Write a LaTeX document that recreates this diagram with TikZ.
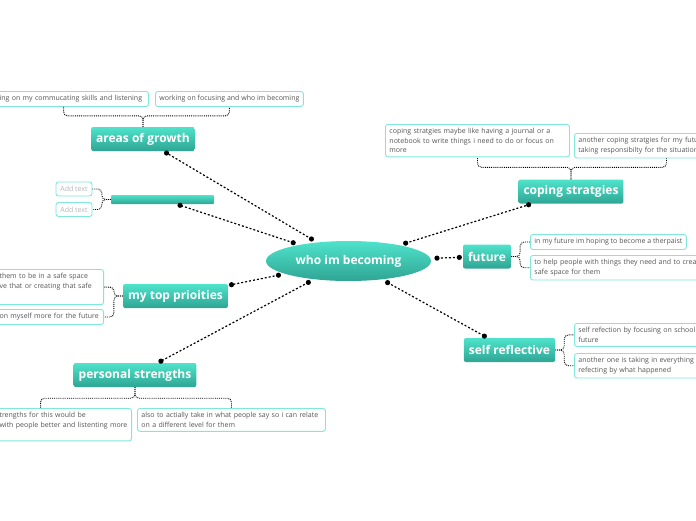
\documentclass[tikz,border=0pt]{standalone}
\usepackage{fontspec}
\setmainfont{Open Sans}
\usetikzlibrary{shapes.geometric,calc}
\definecolor{tealtop}{HTML}{4FE3CB}
\definecolor{tealbot}{HTML}{2FA594}
\definecolor{leafline}{HTML}{7FE8DA}
\definecolor{leaftext}{HTML}{555555}
\definecolor{addgrey}{HTML}{B5B5B5}

\begin{document}
\begin{tikzpicture}[x=1pt,y=-1pt,
  topic/.style={top color=tealtop,bottom color=tealbot,rounded corners=2pt,text=white,
    font=\fontsize{12}{14}\selectfont\bfseries,minimum height=24pt,inner xsep=5pt},
  leaf/.style={draw=leafline,line width=0.9pt,fill=white,rounded corners=2.5pt,text=leaftext,
    font=\fontsize{7}{9.5}\selectfont,align=left,inner sep=4pt},
  link/.style={line width=1.2pt,dash pattern=on 2pt off 2pt},
  dot/.style={fill=black},
  brace/.style={line width=0.9pt,densely dotted,rounded corners=4pt}]

  \useasboundingbox (0,0) rectangle (696,520);
  \clip (0,0) rectangle (696,520);

  \node[ellipse,top color=tealtop,bottom color=tealbot,minimum width=165pt,minimum height=40pt,
    text=white,font=\fontsize{12}{14}\selectfont\bfseries] (centre) at (348.5,261) {who im becoming};

  % areas of growth
  \node[topic] (growth) at (143,139) {areas of growth};
  \node[leaf,anchor=north east,text width=162pt] (growA) at (149,91) {\hspace*{17pt}ing on my commucating skills and listening};
  \node[leaf,anchor=north west] (growB) at (155,91) {working on focusing and who im becoming};
  \draw[brace] (growth.north) -- ++(0,-11) -| (growA.south);
  \draw[brace] (growth.north) -- ++(0,-11) -| (growB.south);

  % empty branch
  \node[top color=tealtop,bottom color=tealbot,rounded corners=1pt,minimum width=103pt,
    minimum height=9pt,inner sep=0pt] (blank) at (162.5,199.5) {};
  \node[leaf,text=addgrey,minimum width=36pt,minimum height=14pt,inner sep=2pt] (addA) at (74,189) {Add text};
  \node[leaf,text=addgrey,minimum width=36pt,minimum height=14pt,inner sep=2pt] (addB) at (74,209.5) {Add text};
  \draw[brace] (blank.west) -- ++(-9,0) |- (addA.east);
  \draw[brace] (blank.west) -- ++(-9,0) |- (addB.east);

  % coping stratgies
  \node[topic] (coping) at (571,191.5) {coping stratgies};
  \node[leaf,anchor=north west,text width=176pt] (copA) at (385,124) {coping stratgies maybe like having a journal or a\\notebook to write things i need to do or focus on\\more};
  \node[leaf,anchor=north west,text width=176pt] (copB) at (574,133) {another coping stratgies for my futu\\taking responsibilty for the situation};
  \draw[brace] (coping.north) -- ++(0,-12) -| (copA.south);
  \draw[brace] (coping.north) -- ++(0,-12) -| (copB.south);

  % future
  \node[topic] (future) at (487,256.5) {future};
  \node[leaf,anchor=north west] (futA) at (530,234) {in my future im hoping to become a therpaist};
  \node[leaf,anchor=north west,text width=190pt] (futB) at (530,255) {to help people with things they need and to creat\\safe space for them};
  \draw[brace] (future.east) -- ++(9,0) |- (futA.west);
  \draw[brace] (future.east) -- ++(9,0) |- (futB.west);

  % my top prioities
  \node[topic] (prio) at (175.5,296) {my top prioities};
  \node[leaf,anchor=north east,text width=100pt] (prioA) at (104,269) {them to be in a safe space\\ve that or creating that safe\\\strut};
  \node[leaf,anchor=north east,text width=100pt] (prioB) at (104,309) {on myself more for the future};
  \draw[brace] (prio.west) -- ++(-9,0) |- (prioA.east);
  \draw[brace] (prio.west) -- ++(-9,0) |- (prioB.east);

  % personal strengths
  \node[topic] (strength) at (135,375) {personal strengths};
  \node[leaf,anchor=north east,text width=174pt] (strA) at (132,408) {\leftskip=46pt trengths for this would be\\with people better and listenting more\\eed};
  \node[leaf,anchor=north west,text width=180pt] (strB) at (137,408) {also to actially take in what people say so i can relate\\on a different level for them};
  \draw[brace] (strength.south) -- ++(0,11) -| (strA.north);
  \draw[brace] (strength.south) -- ++(0,11) -| (strB.north);

  % self reflective
  \node[topic] (self) at (509.5,350) {self reflective};
  \node[leaf,anchor=north west,text width=176pt] (selfA) at (574,323) {self refection by focusing on school\\future};
  \node[leaf,anchor=north west,text width=176pt] (selfB) at (574,353) {another one is taking in everything\\refecting by what happened};
  \draw[brace] (self.east) -- ++(9,0) |- (selfA.west);
  \draw[brace] (self.east) -- ++(9,0) |- (selfB.west);

  % links from the centre, dot at both ends
  \foreach \br in {growth,blank,coping,future,prio,strength,self} {
    \path (centre) -- (\br) coordinate[pos=0] (s) coordinate[pos=1] (e);
    \coordinate (ds) at ($(s)!6.5pt!(e)$);
    \coordinate (de) at ($(e)!3.5pt!(s)$);
    \draw[link] (ds) -- (de);
    \fill[dot] (ds) circle (2.6pt);
    \fill[dot] (de) circle (2.6pt);
  }

\end{tikzpicture}
\end{document}
